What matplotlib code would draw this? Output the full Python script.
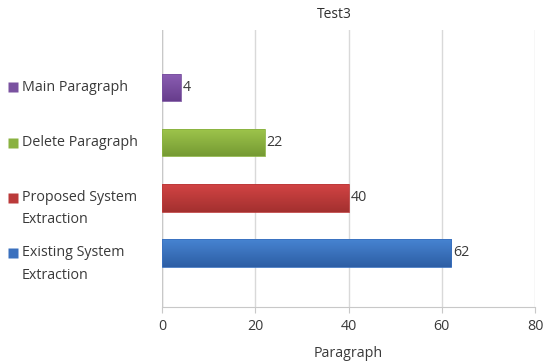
import numpy as np
import matplotlib
matplotlib.use("Agg")
import matplotlib.pyplot as plt
import matplotlib.transforms as mtransforms
from matplotlib.colors import LinearSegmentedColormap

plt.rcParams['font.family'] = ['Open Sans', 'DejaVu Sans']

categories = ["Main Paragraph", "Delete Paragraph", "Proposed System\nExtraction", "Existing System\nExtraction"]
values = [4, 22, 40, 62]
x_ticks = [0, 20, 40, 60, 80]
title = "Test3"
x_label = "Paragraph"

# top / bottom shades of each bar gradient
top_colors = ["#8c5fb4", "#9fc64c", "#d24444", "#4784d2"]
bottom_colors = ["#673d8c", "#759a33", "#a3302f", "#2d5ea4"]
edge_colors = ["#7a52a0", "#8ab241", "#bb3a3a", "#3a70be"]

FS = 10.3
TXT = "#3a3a3a"

fig = plt.figure(figsize=(5.45, 3.62), dpi=100)
ax = fig.add_axes([0.297, 0.152, 0.685, 0.765])

ypos = np.arange(len(categories))
bars = ax.barh(ypos, values, height=0.5, color="none", edgecolor="none", zorder=3)

# gradient fill clipped to each bar
grad = np.linspace(0, 1, 256).reshape(-1, 1)
for bar, c0, c1, ec in zip(bars, top_colors, bottom_colors, edge_colors):
    x0, y0 = bar.get_x(), bar.get_y()
    w, h = bar.get_width(), bar.get_height()
    cmap = LinearSegmentedColormap.from_list("g", [c0, c1])
    im = ax.imshow(grad, cmap=cmap, aspect="auto", extent=(x0, x0 + w, y0 + h, y0),
                   zorder=3, interpolation="bilinear")
    im.set_clip_path(bar)
    ax.add_patch(plt.Rectangle((x0, y0), w, h, fill=False, edgecolor=ec, lw=0.6, zorder=4))
ax.set_xlim(0, 80)
ax.set_ylim(3.98, -1.04)

for y, v in zip(ypos, values):
    ax.annotate(str(v), xy=(v, y), xytext=(1.5, 0), textcoords="offset points",
                va="center", ha="left", fontsize=FS, color=TXT, zorder=5)

ax.set_xticks(x_ticks)
ax.set_yticks([])
ax.grid(axis="x", color="#d9d9d9", lw=1, zorder=0)
for s in ["top", "right", "left"]:
    ax.spines[s].set_visible(False)
ax.spines["bottom"].set_color("#c8c8c8")
ax.tick_params(axis="x", length=4, color="#c8c8c8", labelsize=FS, labelcolor=TXT, pad=5)
ax.axvline(0, color="#c8c8c8", lw=1, zorder=2)
ax.set_xlabel(x_label, fontsize=FS, color=TXT, labelpad=8)
fig.text(334 / 545, 1 - 15 / 362, title, ha="center", va="center", fontsize=10, color="#303030")

# legend entries lined up with the bars on the left
trans = mtransforms.blended_transform_factory(fig.transFigure, ax.transData)
for y, name, c in zip(ypos, categories, edge_colors):
    ax.plot([12.5 / 545], [y], marker="s", ms=6.5, color=c, mec="none",
            transform=trans, clip_on=False)
    first, *rest = name.split("\n")
    ax.text(22 / 545, y, first, transform=trans, va="center", ha="left",
            fontsize=FS, color=TXT)
    if rest:
        ax.annotate(rest[0], xy=(22 / 545, y), xycoords=trans, xytext=(0, -16),
                    textcoords="offset points", va="center", ha="left",
                    fontsize=FS, color=TXT)

fig.savefig("out.png", dpi=100)
